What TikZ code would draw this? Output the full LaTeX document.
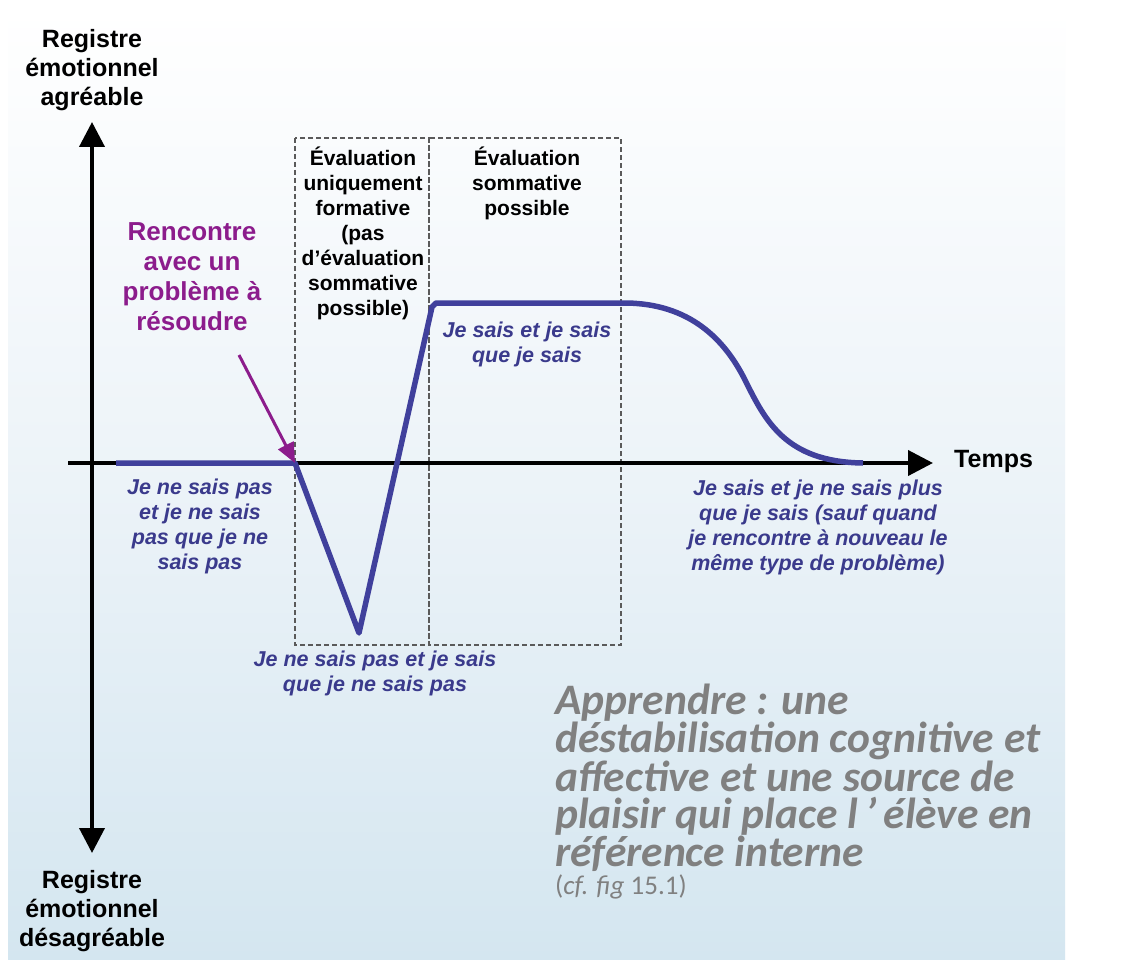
\documentclass[tikz,border=0pt]{standalone}
\usepackage{fontspec}
\setmainfont{Liberation Sans}
\newfontfamily\calib{Carlito}
\usetikzlibrary{arrows.meta}
\definecolor{bgblue}{RGB}{212,230,240}
\definecolor{bgmid}{RGB}{236,243,248}
\definecolor{curveblue}{RGB}{64,64,156}
\definecolor{txtblue}{RGB}{58,58,140}
\definecolor{purp}{RGB}{140,28,140}
\definecolor{bigray}{RGB}{128,128,128}
\definecolor{dashgray}{RGB}{90,90,90}
\tikzset{
  axis/.style={line width=4pt, black},
  axistip/.style={-{Triangle[length=25pt,width=25pt]}},
  curve/.style={line width=5.5pt, curveblue, line join=round},
  evalbox/.style={dashgray, line width=1.4pt, dash pattern=on 5pt off 3pt},
  axlabel/.style={font=\bfseries\fontsize{25}{29}\selectfont, align=center, inner sep=0pt},
  boxtext/.style={font=\bfseries\fontsize{21}{25}\selectfont, align=center, inner sep=0pt},
  bluetext/.style={font=\bfseries\itshape\fontsize{21.5}{25}\selectfont, txtblue, align=center, inner sep=0pt},
  purptext/.style={font=\bfseries\fontsize{26}{30}\selectfont, purp, align=center, inner sep=0pt},
  purparrow/.style={purp, line width=3pt, -{Triangle[length=20pt,width=17pt]}},
}
\begin{document}
\begin{tikzpicture}[x=1pt,y=-1pt]
\useasboundingbox (0,0) rectangle (1122,960);
\fill[white] (0,0) rectangle (1122,960);
\shade[top color=white, bottom color=bgblue, middle color=bgmid] (8,8) rectangle (1065,960);

% dashed evaluation boxes
\draw[evalbox] (295,138) rectangle (429,645);
\draw[evalbox] (429,138) rectangle (621,645);

% axes
\coordinate (ylow) at (92,853);
\coordinate (yhigh) at (92,122);
\coordinate (xlow) at (68,463);
\coordinate (xhigh) at (933,463);
\draw[axis, {Triangle[length=25pt,width=25pt]}-{Triangle[length=25pt,width=25pt]}] (ylow) -- (yhigh);
\draw[axis, axistip] (xlow) -- (xhigh);

% curve
\coordinate (c0) at (116,463);
\coordinate (cross) at (295,463);
\coordinate (vbot) at (359,633);
\coordinate (vtop) at (432,307);
\coordinate (ptop) at (436,303);
\coordinate (pend) at (624,303);
\coordinate (mid) at (745,380);
\coordinate (cend) at (863,463);
\draw[curve] (c0) -- (cross) -- (vbot) -- (vtop) -- (ptop) -- (pend)
  .. controls (690,303) and (725,340) .. (mid)
  .. controls (765,420) and (785,462) .. (cend);

% labels
\node[axlabel] (agr) at (92,70) {Registre\\émotionnel\\agréable};
\node[axlabel] (desagr) at (92,911) {Registre\\émotionnel\\désagréable};
\node[axlabel, anchor=west] (temps) at (954,461) {Temps};

\node[purptext] (rencontre) at (192,277) {Rencontre\\avec un\\problème à\\résoudre};
\coordinate (arrstart) at (239,355);
\draw[purparrow] (arrstart) -- (cross);

\node[boxtext] (form) at (363,233) {Évaluation\\uniquement\\formative\\(pas\\d’évaluation\\sommative\\possible)};
\node[boxtext] (somm) at (527,183) {Évaluation\\sommative\\possible};

\node[bluetext] (jsj) at (527,344) {Je sais et je sais\\que je sais};
\node[bluetext] (jnsp) at (200,526) {Je ne sais pas\\et je ne sais\\pas que je ne\\sais pas};
\node[bluetext] (jnspjs) at (375,673) {Je ne sais pas et je sais\\que je ne sais pas};
\node[bluetext] (jsjnsp) at (818,527) {Je sais et je ne sais plus\\que je sais (sauf quand\\je rencontre à nouveau le\\même type de problème)};

\node[font=\calib\bfseries\itshape\fontsize{43.5}{37.5}\selectfont, bigray, align=left, inner sep=0pt, anchor=north west] (big) at (555,684)
  {Apprendre : une\\déstabilisation cognitive et\\affective et une source de\\plaisir qui place l\,’\,élève en\\référence interne};
\node[font=\calib\fontsize{27}{30}\selectfont, bigray, inner sep=0pt, anchor=base west] (cf) at (555,894) {(\textit{cf. fig} 15.1)};
\end{tikzpicture}
\end{document}
